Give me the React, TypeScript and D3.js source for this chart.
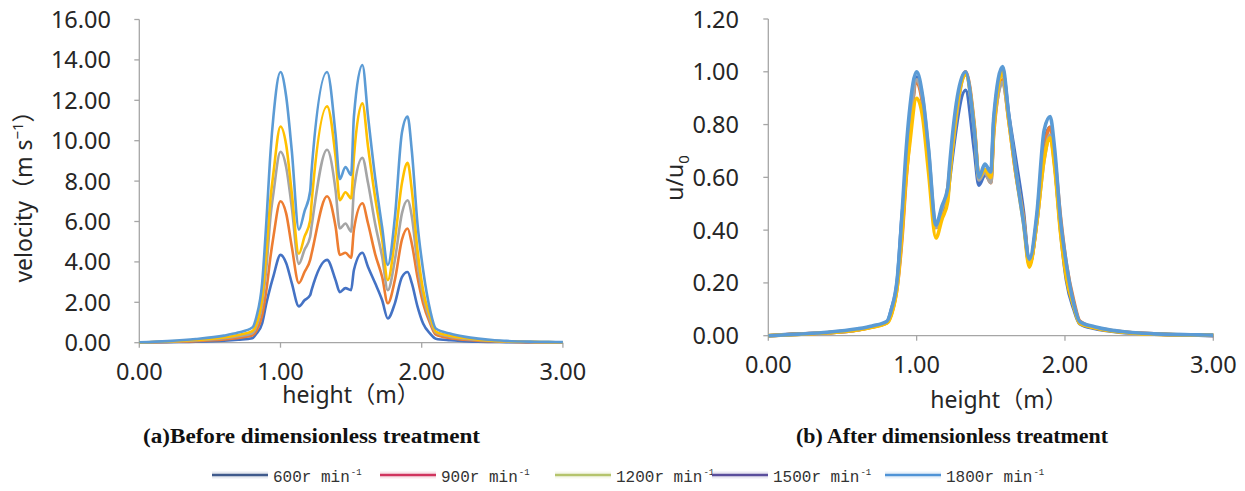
import { useEffect, useRef } from "react";
import * as d3 from "d3";

const W = 1245, H = 491;

// heights (m) shared by every series
const HEIGHT_M = [0, 0.2, 0.4, 0.6, 0.7, 0.8, 0.83, 0.87, 0.9, 0.93, 0.95, 1.0, 1.04, 1.08, 1.13, 1.17, 1.21, 1.22, 1.33, 1.39, 1.42, 1.46, 1.5, 1.52, 1.58, 1.62, 1.67, 1.72, 1.76, 1.81, 1.86, 1.9, 1.93, 1.97, 2.01, 2.06, 2.1, 2.2, 2.3, 2.4, 2.5, 2.6, 2.7, 2.8, 2.9, 3.0];

// (a) velocity, m/s
const V600 = [0, 0.03, 0.05, 0.1, 0.15, 0.22, 0.45, 0.95, 1.95, 2.8, 3.3, 4.35, 3.95, 2.95, 1.8, 2.1, 2.35, 2.6, 4.1, 3.1, 2.5, 2.7, 2.6, 3.6, 4.45, 3.75, 2.95, 2.1, 1.2, 1.95, 3.25, 3.5, 2.95, 1.8, 0.95, 0.45, 0.2, 0.12, 0.08, 0.05, 0.04, 0.03, 0.02, 0.01, 0.01, 0];
const V900 = [0.01, 0.04, 0.08, 0.16, 0.24, 0.36, 0.6, 1.35, 2.6, 4.3, 5.25, 7.0, 6.4, 4.75, 2.95, 3.5, 4.1, 4.4, 7.25, 5.75, 4.35, 4.45, 4.2, 5.6, 6.9, 5.9, 4.4, 3.25, 1.95, 3.1, 5.1, 5.65, 4.9, 3.25, 1.95, 0.95, 0.4, 0.22, 0.15, 0.1, 0.07, 0.05, 0.03, 0.02, 0.02, 0.01];
const V1200 = [0.01, 0.05, 0.11, 0.22, 0.32, 0.47, 0.8, 1.9, 3.7, 6.3, 7.4, 9.45, 8.7, 6.7, 3.9, 4.6, 5.25, 5.75, 9.55, 7.55, 5.65, 5.9, 5.5, 7.55, 9.15, 7.9, 5.9, 4.25, 2.6, 4.1, 6.4, 7.05, 6.25, 3.9, 2.3, 1.1, 0.5, 0.3, 0.2, 0.13, 0.09, 0.06, 0.04, 0.03, 0.02, 0.02];
const V1500 = [0.01, 0.06, 0.13, 0.26, 0.38, 0.57, 0.95, 2.2, 4.5, 7.2, 8.4, 10.7, 9.8, 7.4, 4.4, 5.25, 6.05, 6.9, 11.7, 9.2, 7.05, 7.45, 7.15, 9.2, 11.85, 9.7, 7.2, 5.1, 3.1, 5.1, 7.9, 8.9, 7.55, 4.6, 2.6, 1.3, 0.55, 0.35, 0.23, 0.15, 0.1, 0.07, 0.05, 0.04, 0.03, 0.02];
const V1800 = [0.02, 0.08, 0.18, 0.35, 0.5, 0.75, 1.3, 2.95, 6.0, 9.5, 11.2, 13.4, 12.2, 9.5, 5.6, 6.5, 7.5, 8.5, 13.4, 10.3, 8.1, 8.7, 8.3, 11.2, 13.75, 11.2, 8.2, 5.7, 3.85, 6.2, 10.4, 11.2, 9.5, 5.9, 3.6, 1.6, 0.7, 0.45, 0.3, 0.2, 0.13, 0.09, 0.06, 0.05, 0.04, 0.03];

// (b) u/u0
const R600 = [0, 0.007, 0.011, 0.022, 0.034, 0.05, 0.1, 0.21, 0.44, 0.63, 0.74, 0.98, 0.89, 0.66, 0.41, 0.47, 0.53, 0.58, 0.93, 0.7, 0.57, 0.61, 0.59, 0.81, 1.0, 0.84, 0.66, 0.47, 0.27, 0.44, 0.73, 0.79, 0.66, 0.4, 0.21, 0.1, 0.045, 0.027, 0.018, 0.011, 0.009, 0.007, 0.004, 0.002, 0.002, 0];
const R900 = [0, 0.006, 0.011, 0.022, 0.033, 0.05, 0.083, 0.19, 0.36, 0.6, 0.73, 0.96, 0.88, 0.66, 0.41, 0.48, 0.56, 0.61, 1.0, 0.79, 0.6, 0.62, 0.58, 0.77, 0.97, 0.82, 0.61, 0.45, 0.27, 0.43, 0.7, 0.79, 0.68, 0.45, 0.27, 0.13, 0.055, 0.03, 0.021, 0.014, 0.01, 0.007, 0.004, 0.003, 0.003, 0.001];
const R1200 = [0, 0.005, 0.012, 0.023, 0.034, 0.05, 0.085, 0.2, 0.39, 0.66, 0.77, 0.97, 0.9, 0.7, 0.41, 0.48, 0.55, 0.6, 0.99, 0.78, 0.59, 0.62, 0.58, 0.79, 0.96, 0.83, 0.62, 0.44, 0.27, 0.43, 0.67, 0.76, 0.65, 0.41, 0.24, 0.115, 0.05, 0.031, 0.021, 0.014, 0.009, 0.006, 0.004, 0.003, 0.002, 0.002];
const R1500 = [0, 0.005, 0.011, 0.022, 0.032, 0.048, 0.08, 0.19, 0.38, 0.61, 0.71, 0.9, 0.83, 0.62, 0.37, 0.44, 0.51, 0.58, 0.99, 0.78, 0.6, 0.63, 0.6, 0.78, 1.0, 0.82, 0.61, 0.43, 0.26, 0.43, 0.67, 0.75, 0.64, 0.39, 0.22, 0.11, 0.046, 0.03, 0.019, 0.013, 0.008, 0.006, 0.004, 0.003, 0.003, 0.002];
const R1800 = [0, 0.006, 0.013, 0.026, 0.037, 0.055, 0.1, 0.22, 0.45, 0.71, 0.84, 1.0, 0.91, 0.71, 0.42, 0.49, 0.56, 0.63, 1.0, 0.77, 0.6, 0.65, 0.62, 0.83, 1.02, 0.84, 0.62, 0.43, 0.29, 0.46, 0.78, 0.83, 0.71, 0.44, 0.27, 0.12, 0.053, 0.034, 0.022, 0.015, 0.01, 0.007, 0.005, 0.004, 0.003, 0.002];

const SERIES = ["600r min", "900r min", "1200r min", "1500r min", "1800r min"];
const LINE_COLORS = ["#4472c4", "#ed7d31", "#a5a5a5", "#ffc000", "#5b9bd5"];
const LEGEND_COLORS = ["#3f5a8c", "#d0345e", "#b5c46c", "#5a4e9c", "#4f93d6"];
const LEGEND_X = [212, 380, 555, 712, 885];

const X_TICKS = [0, 1, 2, 3];
const Y_TICKS_A = [0, 2, 4, 6, 8, 10, 12, 14, 16];
const Y_TICKS_B = [0, 0.2, 0.4, 0.6, 0.8, 1.0, 1.2];

const TICK_FONT = "'Noto Sans', 'Noto Sans CJK SC', sans-serif";
const LEGEND_FONT = "'Liberation Mono', 'DejaVu Sans Mono', monospace";
const AXIS_GREY = "#a6a6a6";
const TEXT = "#262626";

export default function App() {
  const svgRef = useRef<SVGSVGElement>(null);

  useEffect(() => {
    const svg = d3.select(svgRef.current);
    svg.selectAll("*").remove();
    svg.append("rect").attr("width", W).attr("height", H).attr("fill", "#fff");

    const panels = [
      { x0: 139.3, x1: 562.9, y0: 342.7, y1: 19.5, yMax: 16, yTicks: Y_TICKS_A, series: [V600, V900, V1200, V1500, V1800], sw: 2.6, labelEnd: 111 },
      { x0: 768.3, x1: 1213.3, y0: 335.7, y1: 19, yMax: 1.2, yTicks: Y_TICKS_B, series: [R600, R900, R1200, R1500, R1800], sw: 3.6, labelEnd: 739 },
    ];

    panels.forEach(p => {
      const x = d3.scaleLinear().domain([0, 3]).range([p.x0, p.x1]);
      const y = d3.scaleLinear().domain([0, p.yMax]).range([p.y0, p.y1]);
      const g = svg.append("g");

      // ── axes ──
      g.append("line").attr("x1", p.x0).attr("x2", p.x0).attr("y1", y(p.yMax)).attr("y2", p.y0)
        .attr("stroke", AXIS_GREY).attr("stroke-width", 1.3);
      g.append("line").attr("x1", p.x0).attr("x2", p.x1).attr("y1", p.y0).attr("y2", p.y0)
        .attr("stroke", AXIS_GREY).attr("stroke-width", 1.3);

      p.yTicks.forEach(t => {
        g.append("line").attr("x1", p.x0 - 5).attr("x2", p.x0).attr("y1", y(t)).attr("y2", y(t))
          .attr("stroke", AXIS_GREY).attr("stroke-width", 1.3);
        g.append("text").attr("x", p.labelEnd).attr("y", y(t) + 8.5).attr("text-anchor", "end")
          .attr("font-family", TICK_FONT).attr("font-size", 23.5).attr("fill", TEXT)
          .text(t.toFixed(2));
      });
      X_TICKS.forEach(t => {
        g.append("line").attr("x1", x(t)).attr("x2", x(t)).attr("y1", p.y0).attr("y2", p.y0 + 5)
          .attr("stroke", AXIS_GREY).attr("stroke-width", 1.3);
        g.append("text").attr("x", x(t)).attr("y", p.y0 + 37).attr("text-anchor", "middle")
          .attr("font-family", TICK_FONT).attr("font-size", 23.5).attr("fill", TEXT)
          .text(t.toFixed(2));
      });

      // ── lines ──
      const line = d3.line<number>()
        .x((_, i) => x(HEIGHT_M[i])).y(d => y(d))
        .curve(d3.curveMonotoneX);
      p.series.forEach((vals, i) => {
        g.append("path").datum(vals).attr("d", line)
          .attr("fill", "none").attr("stroke", LINE_COLORS[i])
          .attr("stroke-width", p.sw).attr("stroke-linejoin", "round");
      });
    });

    // ── axis titles ──
    const vt = svg.append("text").attr("transform", "translate(32,191) rotate(-90)")
      .attr("text-anchor", "middle").attr("font-family", TICK_FONT).attr("font-size", 23).attr("fill", TEXT);
    vt.append("tspan").text("velocity（m s");
    vt.append("tspan").attr("dy", -9).attr("font-size", 15).text("−1");
    vt.append("tspan").attr("dy", 9).text("）");

    const ut = svg.append("text").attr("transform", "translate(683,178) rotate(-90)")
      .attr("text-anchor", "middle").attr("font-family", TICK_FONT).attr("font-size", 23).attr("fill", TEXT);
    ut.append("tspan").text("u/u");
    ut.append("tspan").attr("dy", 6).attr("font-size", 15).text("0");

    svg.append("text").attr("x", 351).attr("y", 403).attr("text-anchor", "middle")
      .attr("font-family", TICK_FONT).attr("font-size", 23).attr("fill", TEXT).text("height（m）");
    svg.append("text").attr("x", 999).attr("y", 408).attr("text-anchor", "middle")
      .attr("font-family", TICK_FONT).attr("font-size", 23).attr("fill", TEXT).text("height（m）");

    // ── captions ──
    svg.append("text").attr("x", 143).attr("y", 443).attr("textLength", 337).attr("lengthAdjust", "spacingAndGlyphs")
      .attr("font-family", "'Liberation Serif', 'Times New Roman', serif").attr("font-weight", "bold")
      .attr("font-size", 20).attr("fill", "#111").text("(a)Before dimensionless treatment");
    svg.append("text").attr("x", 796).attr("y", 443).attr("textLength", 312).attr("lengthAdjust", "spacingAndGlyphs")
      .attr("font-family", "'Liberation Serif', 'Times New Roman', serif").attr("font-weight", "bold")
      .attr("font-size", 20).attr("fill", "#111").text("(b) After dimensionless treatment");

    // ── legend ──
    SERIES.forEach((s, i) => {
      const lx = LEGEND_X[i];
      const lg = svg.append("g");
      lg.append("line").attr("x1", lx).attr("x2", lx + 56).attr("y1", 475).attr("y2", 475)
        .attr("stroke", LEGEND_COLORS[i]).attr("stroke-width", 7).attr("stroke-opacity", 0.12);
      lg.append("line").attr("x1", lx).attr("x2", lx + 56).attr("y1", 475).attr("y2", 475)
        .attr("stroke", LEGEND_COLORS[i]).attr("stroke-width", 2.6);
      const t = lg.append("text").attr("x", lx + 61).attr("y", 482)
        .attr("font-family", LEGEND_FONT).attr("font-size", 16).attr("fill", "#333");
      t.append("tspan").text(s);
      t.append("tspan").attr("dx", 1).attr("dy", -7).attr("font-size", 9).text("-1");
    });
  }, []);

  return (
    <div style={{ position: "absolute", left: 0, top: 0, width: W, height: H, background: "#fff" }}>
      <svg ref={svgRef} width={W} height={H} style={{ display: "block" }} />
    </div>
  );
}
